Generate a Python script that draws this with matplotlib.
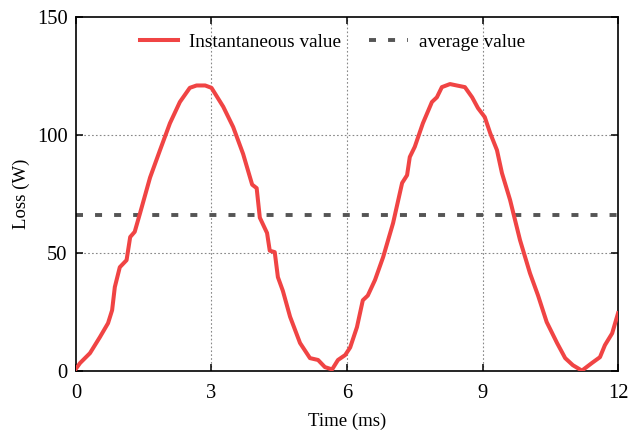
import matplotlib
matplotlib.use("Agg")
import matplotlib.pyplot as plt

time_ms = [0.0, 0.09, 0.31, 0.53, 0.71, 0.80, 0.86, 0.97, 1.12, 1.20, 1.30, 1.42, 1.64, 1.86,
           2.08, 2.30, 2.52, 2.67, 2.86, 3.00, 3.26, 3.48, 3.70, 3.90, 4.00, 4.07, 4.23, 4.29,
           4.40, 4.47, 4.58, 4.74, 4.96, 5.18, 5.36, 5.51, 5.67, 5.80, 5.96, 6.07, 6.22, 6.35,
           6.46, 6.62, 6.80, 7.02, 7.22, 7.33, 7.39, 7.50, 7.68, 7.88, 7.99, 8.10, 8.28, 8.43,
           8.61, 8.77, 8.90, 9.05, 9.17, 9.32, 9.43, 9.61, 9.83, 10.05, 10.23, 10.42, 10.65,
           10.83, 11.00, 11.20, 11.42, 11.60, 11.71, 11.87, 12.0]
loss_w = [1.0, 3.4, 7.6, 14.4, 20.3, 25.8, 35.6, 44.0, 47.0, 56.8, 59.0, 67.0, 82.0, 93.6,
          105.0, 114.0, 120.0, 121.0, 121.0, 120.0, 112.0, 103.4, 92.0, 79.0, 77.5, 65.0, 58.5, 51.0,
          50.4, 39.8, 34.0, 23.0, 11.9, 5.5, 4.7, 1.7, 0.7, 4.7, 6.8, 10.0, 18.6, 30.0,
          32.0, 38.6, 48.3, 62.7, 79.7, 83.0, 90.7, 95.0, 105.0, 114.0, 116.0, 120.3, 121.6, 121.0,
          120.3, 116.0, 111.4, 107.6, 100.8, 93.6, 83.9, 72.5, 55.5, 41.5, 32.0, 20.8, 11.9,
          5.5, 2.5, 0.2, 3.4, 5.9, 11.0, 16.0, 24.5]
average_w = 66.0

x_ticks = [0, 3, 6, 9, 12]
y_ticks = [0, 50, 100, 150]

plt.rcParams['font.family'] = ['Liberation Serif', 'DejaVu Serif']

fig = plt.figure(figsize=(6.3, 4.32), dpi=100)
ax = fig.add_axes([0.1206, 0.141, 0.8604, 0.8196])

ax.plot(time_ms, loss_w, color='#f04444', lw=2.9, label='Instantaneous value',
        solid_joinstyle='round', zorder=3)
ax.plot([0, 12], [average_w, average_w], color='#555555', lw=2.8,
        dashes=(1.8, 3.1), dash_capstyle='butt', label='average value', zorder=2)

ax.set_xlim(0, 12)
ax.set_ylim(0, 150)
ax.set_xticks(x_ticks)
ax.set_yticks(y_ticks)
ax.tick_params(direction='in', top=True, right=True, length=5, width=1.1,
               labelsize=14.8)
ax.tick_params(axis='x', pad=9.5)
ax.tick_params(axis='y', pad=6)
for s in ax.spines.values():
    s.set_linewidth(1.2)

for v in [3, 6, 9]:
    ax.axvline(v, color='#888888', lw=0.8, ls=(0, (1.5, 2)), zorder=1)
for v in [50, 100]:
    ax.axhline(v, color='#888888', lw=0.8, ls=(0, (1.5, 2)), zorder=1)

ax.set_xlabel('Time (ms)', fontsize=13.5, labelpad=7)
ax.set_ylabel('Loss (W)', fontsize=13.5, labelpad=5)

ax.legend(loc='center', bbox_to_anchor=(0.473, 0.9285), ncol=2, frameon=False,
          fontsize=13.85, handlelength=2.0, columnspacing=1.46, handletextpad=0.57,
          borderaxespad=0.0)

fig.savefig('out.png', dpi=100)
